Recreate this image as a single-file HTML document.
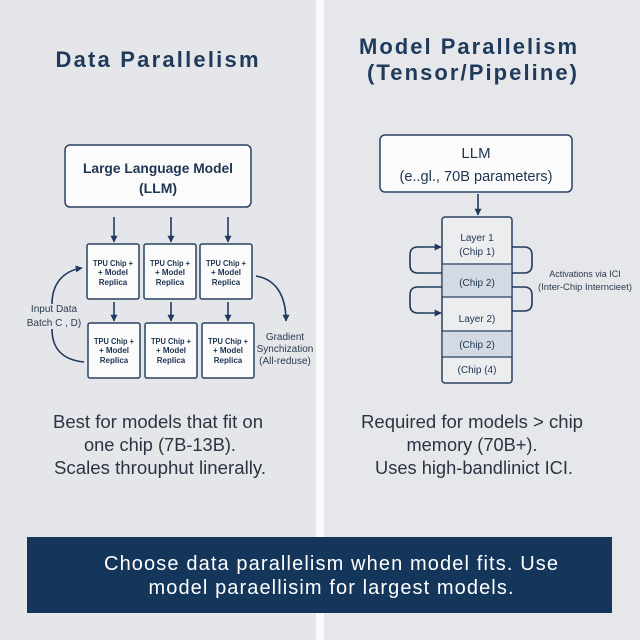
<!DOCTYPE html>
<html><head><meta charset="utf-8"><style>
html,body{margin:0;padding:0;background:#e4e6e9;}
svg{display:block;}
text{font-family:"Liberation Sans",Arial,sans-serif;}
</style></head><body>
<svg width="640" height="640" viewBox="0 0 640 640" xmlns="http://www.w3.org/2000/svg">
<defs>
<marker id="ah" viewBox="0 0 10 10" refX="9" refY="5" markerWidth="7" markerHeight="7" markerUnits="userSpaceOnUse" orient="auto">
<path d="M0,0 L10,5 L0,10 z" fill="#1f3a5c"/>
</marker>
</defs>
<rect x="0" y="0" width="640" height="640" fill="#e4e6e9"/>
<rect x="324" y="0" width="316" height="640" fill="#e6e7ea"/>
<rect x="316" y="0" width="8" height="640" fill="#fafbfb"/>

<!-- Titles -->
<text x="157" y="67" text-anchor="middle" font-size="22" font-weight="bold" fill="#1f3a5a" textLength="203" lengthAdjust="spacing">Data Parallelism</text>
<text x="468" y="54" text-anchor="middle" font-size="22" font-weight="bold" fill="#1f3a5a" textLength="218" lengthAdjust="spacing">Model Parallelism</text>
<text x="472" y="80" text-anchor="middle" font-size="22" font-weight="bold" fill="#1f3a5a" textLength="210" lengthAdjust="spacing">(Tensor/Pipeline)</text>

<!-- LEFT: LLM box -->
<rect x="65" y="145" width="186" height="62" rx="5" fill="#fbfbfc" stroke="#2a4262" stroke-width="1.5"/>
<text x="158" y="173" text-anchor="middle" font-size="14" font-weight="bold" fill="#1f3450" textLength="150" lengthAdjust="spacingAndGlyphs">Large Language Model</text>
<text x="158" y="193" text-anchor="middle" font-size="14" font-weight="bold" fill="#1f3450">(LLM)</text>

<g stroke="#1f3a5c" stroke-width="1.6" fill="none">
<line x1="114" y1="217" x2="114" y2="242" marker-end="url(#ah)"/>
<line x1="171" y1="217" x2="171" y2="242" marker-end="url(#ah)"/>
<line x1="228" y1="217" x2="228" y2="242" marker-end="url(#ah)"/>
<line x1="114" y1="302" x2="114" y2="321" marker-end="url(#ah)"/>
<line x1="171" y1="302" x2="171" y2="321" marker-end="url(#ah)"/>
<line x1="228" y1="302" x2="228" y2="321" marker-end="url(#ah)"/>
<path d="M52,304 C52,285 62,271 82,268" marker-end="url(#ah)"/>
<path d="M52,329 C52,348 62,360 84,362"/>
<path d="M256,276 C274,279 286,293 286,321" marker-end="url(#ah)"/>
</g>

<!-- chips -->
<g fill="#fbfbfc" stroke="#2a4262" stroke-width="1.5">
<rect x="87" y="244" width="52" height="55" rx="2"/>
<rect x="144" y="244" width="52" height="55" rx="2"/>
<rect x="200" y="244" width="52" height="55" rx="2"/>
<rect x="88" y="323" width="52" height="55" rx="2"/>
<rect x="145" y="323" width="52" height="55" rx="2"/>
<rect x="202" y="323" width="52" height="55" rx="2"/>
</g>
<g font-size="8" font-weight="bold" fill="#1f3450" text-anchor="middle">
<text x="113" y="266" textLength="40" lengthAdjust="spacingAndGlyphs">TPU Chip +</text>
<text x="113" y="275">+ Model</text>
<text x="113" y="285">Replica</text>
<text x="170" y="266" textLength="40" lengthAdjust="spacingAndGlyphs">TPU Chip +</text>
<text x="170" y="275">+ Model</text>
<text x="170" y="285">Replica</text>
<text x="226" y="266" textLength="40" lengthAdjust="spacingAndGlyphs">TPU Chip +</text>
<text x="226" y="275">+ Model</text>
<text x="226" y="285">Replica</text>
<text x="114" y="344" textLength="40" lengthAdjust="spacingAndGlyphs">TPU Chip +</text>
<text x="114" y="353">+ Model</text>
<text x="114" y="363">Replica</text>
<text x="171" y="344" textLength="40" lengthAdjust="spacingAndGlyphs">TPU Chip +</text>
<text x="171" y="353">+ Model</text>
<text x="171" y="363">Replica</text>
<text x="228" y="344" textLength="40" lengthAdjust="spacingAndGlyphs">TPU Chip +</text>
<text x="228" y="353">+ Model</text>
<text x="228" y="363">Replica</text>
</g>
<g font-size="10" fill="#2a3a4e" text-anchor="middle">
<text x="54" y="312">Input Data</text>
<text x="54" y="326">Batch C , D)</text>
<text x="285" y="340">Gradient</text>
<text x="285" y="352">Synchization</text>
<text x="285" y="364">(All-reduse)</text>
</g>

<!-- RIGHT: LLM box -->
<rect x="380" y="135" width="192" height="57" rx="5" fill="#fbfbfc" stroke="#2a4262" stroke-width="1.5"/>
<text x="476" y="158" text-anchor="middle" font-size="15" fill="#1f3450">LLM</text>
<text x="476" y="181" text-anchor="middle" font-size="14.5" fill="#1f3450" textLength="153" lengthAdjust="spacingAndGlyphs">(e..gl., 70B parameters)</text>

<g stroke="#1f3a5c" stroke-width="1.6" fill="none">
<line x1="478" y1="194" x2="478" y2="215" marker-end="url(#ah)"/>
</g>

<!-- stack -->
<rect x="442" y="217" width="70" height="166" rx="3" fill="#ecedef" stroke="#2a4262" stroke-width="1.5"/>
<rect x="442.8" y="264" width="68.4" height="33" fill="#d4dae3"/>
<rect x="442.8" y="331" width="68.4" height="26" fill="#d4dae3"/>
<g stroke="#2a4262" stroke-width="1.3">
<line x1="442" y1="264" x2="512" y2="264"/>
<line x1="442" y1="297" x2="512" y2="297"/>
<line x1="442" y1="331" x2="512" y2="331"/>
<line x1="442" y1="357" x2="512" y2="357"/>
</g>
<g font-size="10" fill="#1f3450" text-anchor="middle">
<text x="477" y="241">Layer 1</text>
<text x="477" y="255">(Chip 1)</text>
<text x="477" y="286">(Chip 2)</text>
<text x="477" y="322">Layer 2)</text>
<text x="477" y="348">(Chip 2)</text>
<text x="477" y="373">(Chip (4)</text>
</g>

<g stroke="#1f3a5c" stroke-width="1.6" fill="none">
<path d="M442,273 L418,273 Q410,273 410,265 L410,255 Q410,247 418,247 L441,247" marker-end="url(#ah)"/>
<path d="M442,287 L418,287 Q410,287 410,295 L410,305 Q410,313 418,313 L441,313" marker-end="url(#ah)"/>
<path d="M512,247 L524,247 Q532,247 532,255 L532,265 Q532,273 524,273 L512,273"/>
<path d="M512,287 L524,287 Q532,287 532,295 L532,303 Q532,311 524,311 L512,311"/>
</g>
<g font-size="9" fill="#2a3a4e" text-anchor="middle">
<text x="585" y="277">Activations via ICI</text>
<text x="585" y="290" textLength="94" lengthAdjust="spacingAndGlyphs">(Inter-Chip Interncieet)</text>
</g>

<!-- descriptions -->
<g font-size="18" fill="#2b3442" text-anchor="middle">
<text x="158" y="428" textLength="210" lengthAdjust="spacingAndGlyphs">Best for models that fit on</text>
<text x="160" y="451" textLength="152" lengthAdjust="spacingAndGlyphs">one chip (7B-13B).</text>
<text x="160" y="474" textLength="212" lengthAdjust="spacingAndGlyphs">Scales throuphut linerally.</text>
<text x="472" y="428" textLength="222" lengthAdjust="spacingAndGlyphs">Required for models &gt; chip</text>
<text x="472" y="451" textLength="131" lengthAdjust="spacingAndGlyphs">memory (70B+).</text>
<text x="474" y="474" textLength="198" lengthAdjust="spacingAndGlyphs">Uses high-bandlinict ICI.</text>
</g>

<!-- banner -->
<rect x="27" y="537" width="585" height="76" fill="#14365b"/>
<g font-size="20" fill="#ffffff" text-anchor="middle">
<text x="331" y="570" textLength="454" lengthAdjust="spacing">Choose data parallelism when model fits. Use</text>
<text x="331" y="594" textLength="365" lengthAdjust="spacing">model paraellisim for largest models.</text>
</g>
</svg>
</body></html>
